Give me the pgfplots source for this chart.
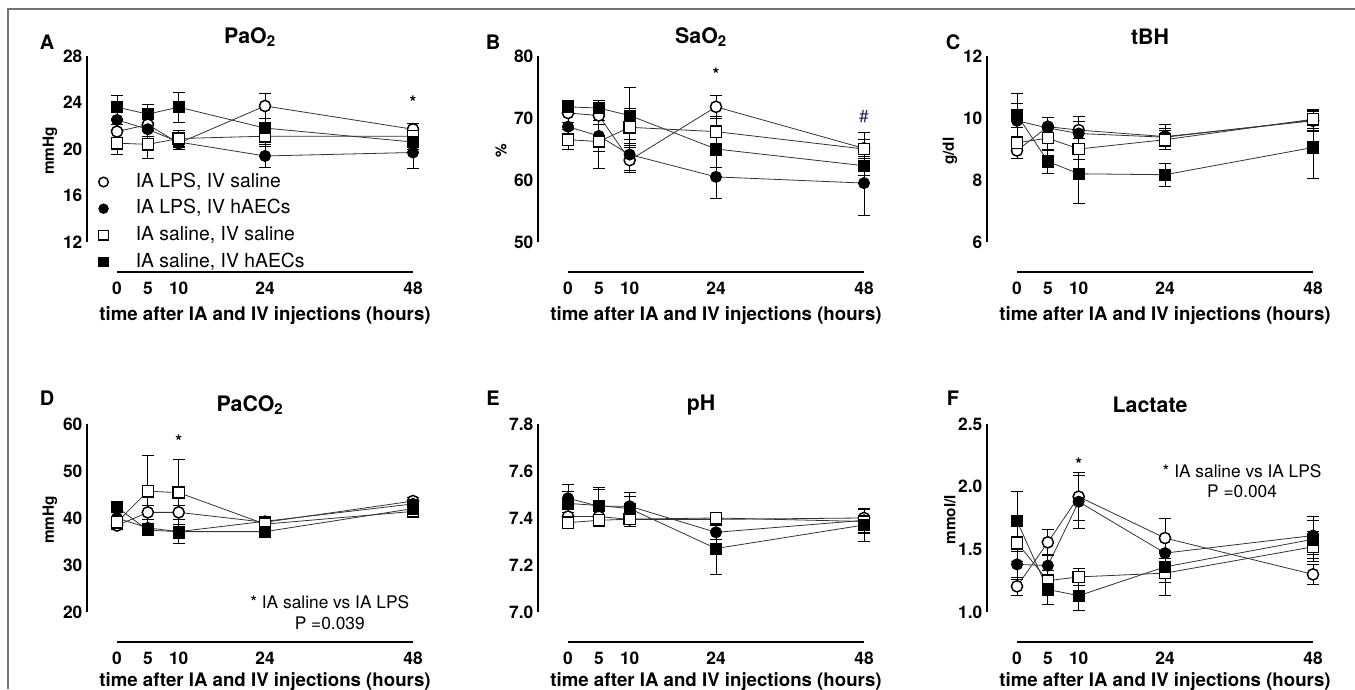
\documentclass[border=0pt]{standalone}
\usepackage{fontspec}
\setmainfont{TeX Gyre Heros}
\usepackage{pgfplots}
\usepackage{pgfplotstable}
\pgfplotsset{compat=1.18}

% y1/e1 IA LPS IV saline, y2/e2 IA LPS IV hAECs, y3/e3 IA saline IV saline, y4/e4 IA saline IV hAECs
\pgfplotstableread{
x  y1    e1   y2    e2   y3    e3   y4    e4
0  21.5  0.6  22.5  0.8  20.5  1.0  23.6  1.0
5  22.1  0.6  21.7  0.6  20.4  1.2  23.0  0.8
10 20.5  0.5  20.6  0.5  20.9  0.7  23.6  1.3
24 23.7  1.1  19.4  1.0  21.1  0.9  21.8  0.8
48 21.7  0.5  19.7  1.4  21.1  0.6  20.6  0.6
}\paotwo
\pgfplotstableread{
x  y1    e1   y2    e2   y3    e3   y4    e4
0  70.8  1.5  68.6  2.0  66.5  1.6  71.8  1.0
5  70.4  1.5  67.1  2.5  66.2  4.3  71.6  1.2
10 63.2  2.0  64.1  2.5  68.5  3.0  70.4  4.5
24 71.8  1.9  60.5  3.5  67.8  2.5  65.0  3.0
48 65.1  2.5  59.5  5.2  65.0  1.5  62.3  1.5
}\saotwo
\pgfplotstableread{
x  y1    e1    y2    e2    y3    e3    y4     e4
0  8.95  0.25  9.91  0.55  9.20  0.50  10.10  0.70
5  9.72  0.30  9.68  0.35  9.35  0.40  8.60   0.40
10 9.61  0.45  9.50  0.40  9.00  0.35  8.20   0.95
24 9.40  0.40  9.38  0.30  9.30  0.30  8.17   0.38
48 9.91  0.30  9.93  0.35  9.96  0.30  9.05   1.00
}\tbh
\pgfplotstableread{
x  y1    e1   y2    e2   y3    e3   y4    e4
0  38.4  0.8  40.0  1.5  39.1  1.0  42.3  1.2
5  41.2  1.5  37.9  1.0  45.7  7.7  37.4  1.0
10 41.2  1.5  37.1  1.5  45.4  7.1  37.1  2.5
24 39.1  1.0  39.3  1.0  38.7  1.2  37.1  1.0
48 43.6  0.8  43.0  0.8  41.4  0.8  42.0  0.8
}\pacotwo
\pgfplotstableread{
x  y1     e1    y2     e2    y3     e3    y4     e4
0  7.406  0.03  7.484  0.06  7.380  0.02  7.462  0.05
5  7.406  0.02  7.450  0.08  7.390  0.02  7.453  0.07
10 7.394  0.02  7.450  0.06  7.395  0.03  7.440  0.05
24 7.394  0.02  7.339  0.03  7.400  0.02  7.270  0.11
48 7.400  0.04  7.390  0.05  7.385  0.05  7.370  0.07
}\ph
\pgfplotstableread{
x  y1     e1    y2    e2    y3     e3    y4     e4
0  1.205  0.07  1.38  0.12  1.553  0.15  1.726  0.24
5  1.556  0.10  1.37  0.08  1.25   0.08  1.18   0.12
10 1.92   0.19  1.88  0.21  1.28   0.07  1.13   0.12
24 1.59   0.16  1.47  0.12  1.31   0.18  1.36   0.12
48 1.30   0.08  1.61  0.15  1.52   0.12  1.58   0.15
}\lactate

\pgfplotsset{
  panel/.style={
    scale only axis, width=244.5pt, height=162pt,
    xmin=-4.865, xmax=48, xtick={0,5,10,24,48},
    axis line style={draw=none}, tick pos=left, major tick length=0pt,
    clip=false,
    /pgf/number format/assume math mode=true,
    tick label style={font=\fontsize{13}{15}\selectfont\bfseries},
    xticklabel style={anchor=center, yshift=-12.5pt},
    title style={font=\fontsize{16}{18}\selectfont\bfseries, at={(0.5,1.051)}, anchor=center},
    xlabel={time after IA and IV injections (hours)},
    xlabel style={font=\fontsize{14}{16}\selectfont\bfseries, at={(0.546,-0.203)}, anchor=center},
    ylabel style={font=\fontsize{11.5}{14}\selectfont\bfseries, at={(-0.1135,0.56)}, anchor=center},
  },
  lower/.style={height=163.5pt, xlabel style={at={(0.546,-0.18)}}},
  ser/.style={color=black!80, line width=0.6pt, mark size=4.2pt,
    error bars/y dir=both, error bars/y explicit,
    error bars/error bar style={line width=0.6pt, black},
    error bars/error mark options={line width=0.6pt, black, mark size=4.5pt, rotate=90}},
  oci/.style={ser, mark=*, mark options={fill=white, draw=black, line width=1.1pt}},
  fci/.style={ser, mark=*, mark options={fill=black, draw=black}},
  osq/.style={ser, mark=square*, mark options={fill=white, draw=black, line width=1.1pt}},
  fsq/.style={ser, mark=square*, mark options={fill=black, draw=black}},
}
\newcommand\fourseries[1]{%
  \addplot[oci] table[x=x, y=y1, y error=e1]{#1};
  \addplot[fci] table[x=x, y=y2, y error=e2]{#1};
  \addplot[osq] table[x=x, y=y3, y error=e3]{#1};
  \addplot[fsq] table[x=x, y=y4, y error=e4]{#1};
}
\newcommand\axlines[3]{%
  \draw[line width=1.8pt] (axis cs:-4.865,#1) -- (axis cs:-4.865,#2);
  \draw[line width=2pt] (axis cs:0,#3) -- (axis cs:48,#3);
}

\begin{document}
\begin{tikzpicture}[x=0.75pt, y=0.75pt]
\path[use as bounding box] (0,0) rectangle (1355,689);
\draw[black!55, line width=0.9pt] (8,0) -- (8,680) -- (1355,680);

% A
\begin{axis}[panel, at={(65.25pt,312.75pt)}, title={PaO\textsubscript{2}}, ylabel={mmHg},
  ymin=9.42, ymax=28, ytick={12,16,20,24,28},
  legend cell align=left,
  legend style={at={(0.023,0.478)}, anchor=north west, draw=none, fill=none,
    font=\fontsize{14.5}{16}\selectfont, row sep=4.5pt,
    nodes={inner ysep=1pt, text height=10.5pt, text depth=3pt}},
  legend image code/.code={\draw[#1, mark size=3.6pt] plot coordinates {(0cm,0cm)}; \path[draw=none] (0,0) -- (0.78cm,0);}]
\fourseries{\paotwo}
\legend{{IA LPS, IV saline},{IA LPS, IV hAECs},{IA saline, IV saline},{IA saline, IV hAECs}}
\axlines{12}{28}{9.42}
\node[font=\fontsize{13}{15}\selectfont\bfseries] at (axis cs:48,24.0) {*};
\end{axis}

% B
\begin{axis}[panel, at={(403.5pt,312.75pt)}, title={SaO\textsubscript{2}}, ylabel={\%},
  ymin=45.16, ymax=80, ytick={50,60,70,80}]
\fourseries{\saotwo}
\axlines{50}{80}{45.16}
\node[font=\fontsize{13}{15}\selectfont\bfseries] at (axis cs:24,77.0) {*};
\node[font=\fontsize{13}{15}\selectfont, text={rgb,255:red,25;green,45;blue,95}] at (axis cs:48,70.3) {\#};
\end{axis}

% C
\begin{axis}[panel, at={(740.25pt,312.75pt)}, title={tBH}, ylabel={g/dl},
  ymin=5.032, ymax=12, ytick={6,8,10,12}]
\fourseries{\tbh}
\axlines{6}{12}{5.032}
\end{axis}

% D
\begin{axis}[panel, lower, at={(65.25pt,35.25pt)}, title={PaCO\textsubscript{2}}, ylabel={mmHg},
  ymin=13.62, ymax=60, ytick={20,30,40,50,60}]
\fourseries{\pacotwo}
\axlines{20}{60}{13.62}
\node[font=\fontsize{13}{15}\selectfont\bfseries] at (axis cs:10,56.4) {*};
\node[font=\fontsize{13}{15.5}\selectfont, align=center] at (axis cs:34.5,19.9) {* IA saline vs IA LPS\\P =0.039};
\end{axis}

% E
\begin{axis}[panel, lower, at={(403.5pt,35.25pt)}, title={pH},
  ymin=6.872, ymax=7.8, ytick={7.0,7.2,7.4,7.6,7.8},
  yticklabel style={/pgf/number format/.cd, fixed, fixed zerofill, precision=1}]
\fourseries{\ph}
\axlines{7.0}{7.8}{6.872}
\end{axis}

% F
\begin{axis}[panel, lower, at={(740.25pt,35.25pt)}, title={Lactate}, ylabel={mmol/l},
  ymin=0.7606, ymax=2.5, ytick={1.0,1.5,2.0,2.5},
  yticklabel style={/pgf/number format/.cd, fixed, fixed zerofill, precision=1}]
\fourseries{\lactate}
\axlines{1.0}{2.5}{0.7606}
\node[font=\fontsize{13}{15}\selectfont\bfseries] at (axis cs:10,2.18) {*};
\node[font=\fontsize{13}{15.5}\selectfont, align=center] at (axis cs:36.5,2.045) {* IA saline vs IA LPS\\P =0.004};
\end{axis}

\begin{scope}[font=\fontsize{15}{17}\selectfont\bfseries]
\node at (47,647) {A};
\node at (493,647) {B};
\node at (953,647) {C};
\node at (47,291) {D};
\node at (493,291) {E};
\node at (953,291) {F};
\end{scope}
\end{tikzpicture}
\end{document}
